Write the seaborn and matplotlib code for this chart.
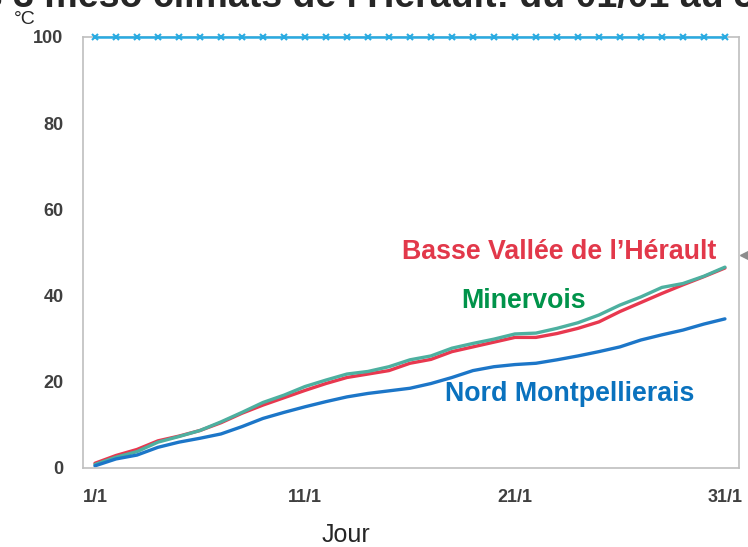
import numpy as np
import pandas as pd
import matplotlib
matplotlib.use("Agg")
import matplotlib.pyplot as plt
import seaborn as sns

# Days of January
days = list(range(1, 32))

# Cumulated temperatures (°C)
basse_vallee = [1.1, 2.9, 4.3, 6.3, 7.4, 8.7, 10.5, 12.7, 14.6, 16.3,
                18.0, 19.6, 21.0, 21.8, 22.6, 24.3, 25.2, 27.0, 28.1, 29.2,
                30.3, 30.3, 31.2, 32.4, 33.9, 36.3, 38.4, 40.5, 42.5, 44.4, 46.4]
minervois = [0.8, 2.5, 3.8, 6.0, 7.3, 8.7, 10.7, 12.9, 15.2, 16.9,
             18.9, 20.4, 21.8, 22.4, 23.5, 25.1, 26.0, 27.8, 28.9, 29.9,
             31.1, 31.3, 32.4, 33.7, 35.5, 37.8, 39.7, 41.9, 42.8, 44.5, 46.6]
nord_montpellierais = [0.5, 2.1, 3.0, 4.8, 6.0, 6.9, 7.9, 9.6, 11.5, 12.9,
                       14.2, 15.4, 16.5, 17.3, 17.9, 18.5, 19.6, 21.0, 22.6, 23.5,
                       24.0, 24.3, 25.1, 26.0, 27.0, 28.1, 29.7, 30.9, 32.0, 33.4, 34.6]
seuil = [100] * 31

series_names = ["Basse Vallée de l\u2019Hérault", "Minervois", "Nord Montpellierais"]
line_colors = ["#E8384F", "#4DB0A0", "#1C76C8"]
label_colors = ["#E2384A", "#00934A", "#0A72BE"]

df = pd.DataFrame({
    "jour": days * 3,
    "cumul": basse_vallee + minervois + nord_montpellierais,
    "zone": [series_names[0]] * 31 + [series_names[1]] * 31 + [series_names[2]] * 31,
})
df_seuil = pd.DataFrame({"jour": days, "cumul": seuil})

sns.set_style("white")
plt.rcParams["font.family"] = ["Liberation Sans", "DejaVu Sans"]

fig = plt.figure(figsize=(7.48, 5.47), dpi=100)
ax = fig.add_axes([83 / 748, 1 - 468 / 547, (739 - 83) / 748, (468 - 37) / 547])

sns.lineplot(data=df_seuil, x="jour", y="cumul", ax=ax, color="#29ABE2",
             linewidth=1.8, marker="x", markersize=5, markeredgewidth=1.5,
             markeredgecolor="#29ABE2", clip_on=False, zorder=3)
sns.lineplot(data=df, x="jour", y="cumul", hue="zone", palette=line_colors,
             ax=ax, linewidth=2.4, legend=False)

ax.set_xlim(0.43, 31.67)
ax.set_ylim(0, 100)
ax.set_xticks([1, 11, 21, 31])
ax.set_xticklabels(["1/1", "11/1", "21/1", "31/1"])
ax.set_yticks([0, 20, 40, 60, 80, 100])
ax.tick_params(axis="both", length=0, labelsize=13, labelcolor="#3F3F3F")
ax.tick_params(axis="x", pad=15)
ax.tick_params(axis="y", pad=14)
for lab in ax.get_xticklabels() + ax.get_yticklabels():
    lab.set_fontweight("bold")
ax.set_xlabel("")
ax.set_ylabel("")
for s in ax.spines.values():
    s.set_color("#BFBFBF")
    s.set_linewidth(1.2)

# Series labels
ax.text(559 / 748, 1 - 252 / 547, series_names[0], transform=fig.transFigure,
        color=label_colors[0], fontsize=19.3, fontweight="bold", ha="center", va="center")
ax.text(524 / 748, 1 - 301 / 547, series_names[1], transform=fig.transFigure,
        color=label_colors[1], fontsize=19.3, fontweight="bold", ha="center", va="center")
ax.text(570 / 748, 1 - 394 / 547, series_names[2], transform=fig.transFigure,
        color=label_colors[2], fontsize=19.3, fontweight="bold", ha="center", va="center")

# Axis captions
fig.text(25 / 748, 1 - 20 / 547, "°C", fontsize=14, ha="center", va="center")
fig.text(346 / 748, 1 - 535 / 547, "Jour", fontsize=18, ha="center", va="center")

# Title (cropped at the top of the picture)
fig.text(828 / 748, 1 - 7 / 547,
         "Cumul des températures des 3 méso climats de l\u2019Hérault: du 01/01 au 31/01",
         fontsize=27, fontweight="bold", ha="right", va="baseline")

# Small grey arrow on the right border
fig.add_artist(matplotlib.lines.Line2D([746 / 748], [1 - 255 / 547], marker="<",
                                       markersize=9, color="#8C8C8C",
                                       transform=fig.transFigure))

fig.savefig("out.png", dpi=100)
